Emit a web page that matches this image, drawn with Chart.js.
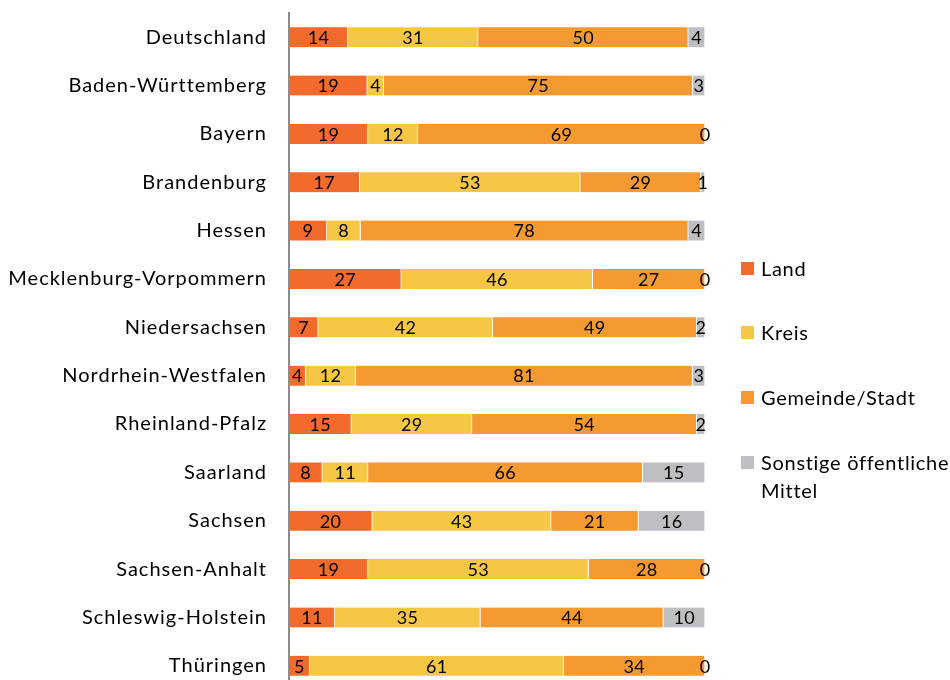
<!DOCTYPE html>
<html>
<head>
<meta charset="utf-8">
<script src="https://cdn.jsdelivr.net/npm/chart.js@4"></script>
<style>
  html, body { margin: 0; padding: 0; background: #fff; overflow: hidden; }
  #wrap { position: relative; width: 950px; height: 680px; overflow: hidden; }
  #chart-box { position: absolute; left: 0; top: 0; width: 950px; height: 690px; }
  #legend { position: absolute; left: 741px; top: 0; font-family: Lato, "Open Sans", sans-serif; font-size: 20px; letter-spacing: 0.7px; color: #000; }
  .item { position: absolute; left: 0; white-space: nowrap; line-height: 28px; }
  .item span.box { position: absolute; left: 0; top: 8px; width: 13px; height: 13px; }
  .item span.txt { display: block; padding-left: 20px; }
</style>
</head>
<body>
<div id="wrap">
  <div id="chart-box"><canvas id="chart" width="950" height="690"></canvas></div>
  <div id="legend"></div>
</div>
<script>
// categories (top to bottom)
const states = [
  'Deutschland', 'Baden-Württemberg', 'Bayern', 'Brandenburg', 'Hessen',
  'Mecklenburg-Vorpommern', 'Niedersachsen', 'Nordrhein-Westfalen',
  'Rheinland-Pfalz', 'Saarland', 'Sachsen', 'Sachsen-Anhalt',
  'Schleswig-Holstein', 'Thüringen'
];

// shares in percent, as printed in the bars
const land     = [14, 19, 19, 17, 9, 27, 7, 4, 15, 8, 20, 19, 11, 5];
const kreis    = [31, 4, 12, 53, 8, 46, 42, 12, 29, 11, 43, 53, 35, 61];
const gemeinde = [50, 75, 69, 29, 78, 27, 49, 81, 54, 66, 21, 28, 44, 34];
const sonstige = [4, 3, 0, 1, 4, 0, 2, 3, 2, 15, 16, 0, 10, 0];

const seriesNames = ['Land', 'Kreis', 'Gemeinde/Stadt', ['Sonstige öffentliche', 'Mittel']];
const seriesColors = ['#F26B2C', '#F5C744', '#F49A31', '#BFBFC3'];

// the original is a 100% stacked chart, so each row is scaled to its own total
const rowTotals = states.map((s, i) => land[i] + kreis[i] + gemeinde[i] + sonstige[i]);
function toShare(arr) {
    return arr.map((v, i) => v / rowTotals[i] * 100);
}

const allSeries = [land, kreis, gemeinde, sonstige];
const datasets = allSeries.map((arr, k) => ({
    label: Array.isArray(seriesNames[k]) ? seriesNames[k].join(' ') : seriesNames[k],
    data: toShare(arr),
    rawValues: arr,
    backgroundColor: seriesColors[k],
    borderColor: '#ffffff',
    borderWidth: { left: 0, right: 1, top: 0, bottom: 0 },
    borderSkipped: false,
    barThickness: 20
}));

// wider letter spacing, like the original export
const spacing = {
    id: 'spacing',
    beforeDraw(chart) { chart.ctx.letterSpacing = '1px'; }
};

// draws the value label in the middle of each segment
const segmentLabels = {
    id: 'segmentLabels',
    afterDatasetsDraw(chart) {
        const ctx = chart.ctx;
        ctx.save();
        ctx.letterSpacing = '0.3px';
        ctx.font = '18px Lato, "Open Sans", sans-serif';
        ctx.fillStyle = '#000';
        ctx.textAlign = 'center';
        ctx.textBaseline = 'middle';
        chart.data.datasets.forEach((ds, k) => {
            const meta = chart.getDatasetMeta(k);
            meta.data.forEach((bar, i) => {
                const cx = (bar.x + bar.base) / 2;
                ctx.fillText(String(ds.rawValues[i]), cx, bar.y + 1);
            });
        });
        ctx.restore();
    }
};

new Chart(document.getElementById('chart').getContext('2d'), {
    type: 'bar',
    data: { labels: states, datasets: datasets },
    options: {
        indexAxis: 'y',
        responsive: false,
        animation: false,
        layout: { padding: { left: 0, right: 245, top: 13, bottom: 0 } },
        plugins: {
            legend: { display: false },
            tooltip: { enabled: false }
        },
        scales: {
            x: {
                stacked: true,
                min: 0,
                max: 100,
                display: false
            },
            y: {
                stacked: true,
                grid: { display: false, drawTicks: false },
                border: { display: true, color: '#8C8C8C', width: 2 },
                ticks: {
                    color: '#000',
                    padding: 22,
                    font: { family: 'Lato, "Open Sans", sans-serif', size: 20 }
                },
                afterFit(scale) {
                    scale.width = 289;
                    scale.paddingTop = 0;
                    scale.paddingBottom = 0;
                }
            }
        }
    },
    plugins: [spacing, segmentLabels]
});

// legend on the right
const legendTops = [254, 318, 383, 448];
const legend = document.getElementById('legend');
seriesNames.forEach((name, k) => {
    const div = document.createElement('div');
    div.className = 'item';
    div.style.top = legendTops[k] + 'px';
    const lines = Array.isArray(name) ? name : [name];
    div.innerHTML = '<span class="box" style="background:' + seriesColors[k] + '"></span>' +
        '<span class="txt">' + lines.join('<br>') + '</span>';
    legend.appendChild(div);
});
</script>
</body>
</html>
